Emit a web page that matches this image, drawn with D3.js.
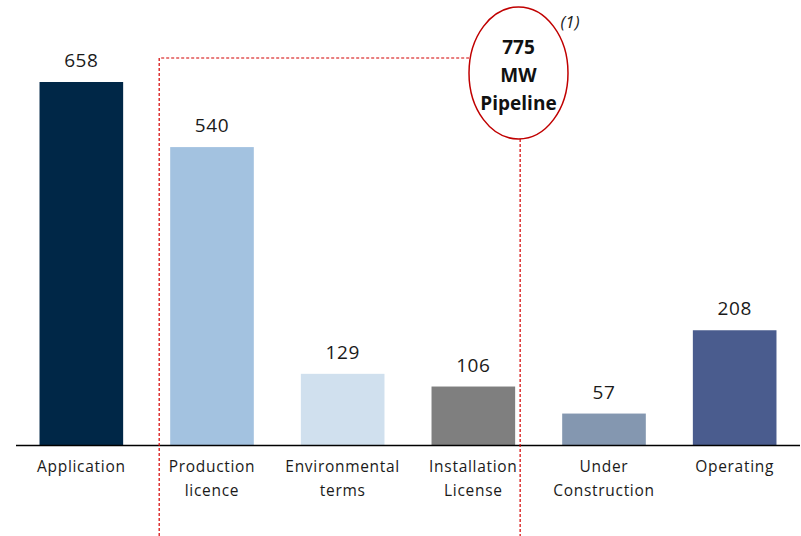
<!DOCTYPE html>
<html>
<head>
<meta charset="utf-8">
<script src="https://cdn.jsdelivr.net/npm/d3@7"></script>
<style>
  html, body { margin: 0; padding: 0; background: #fff; }
  svg { display: block; }
</style>
</head>
<body>
<svg id="chart" width="801" height="536"></svg>
<script>
// Wind project stages (MW)
const categories = [
  ["Application"],
  ["Production", "licence"],
  ["Environmental", "terms"],
  ["Installation", "License"],
  ["Under", "Construction"],
  ["Operating"]
];
const values = [658, 540, 129, 106, 57, 208];
const colors = ["#002747", "#a3c2e0", "#d0e0ee", "#7f7f7f", "#8497b0", "#4a5c8e"];
const pipelineLines = ["775", "MW", "Pipeline"];
const noteMark = "(1)";

const W = 801, H = 536;
const baseY = 445;
const svg = d3.select("#chart");
const font = "'Open Sans', 'Noto Sans', sans-serif";

const keys = categories.map(c => c.join(" "));
const x = d3.scaleBand().domain(keys).range([16, 800]).paddingInner(0.36).paddingOuter(0.18);
const y = d3.scaleLinear().domain([0, 658]).range([baseY, 82]);

// bars
svg.selectAll("rect.bar").data(values).join("rect")
  .attr("class", "bar")
  .attr("x", (d, i) => x(keys[i]))
  .attr("y", d => y(d))
  .attr("width", x.bandwidth())
  .attr("height", d => baseY - y(d))
  .attr("fill", (d, i) => colors[i]);

// value labels
svg.selectAll("text.val").data(values).join("text")
  .attr("class", "val")
  .attr("x", (d, i) => x(keys[i]) + x.bandwidth() / 2)
  .attr("y", d => y(d) - 15)
  .attr("text-anchor", "middle")
  .attr("font-family", font)
  .attr("font-size", 19)
  .attr("letter-spacing", 0.6)
  .attr("fill", "#1a1a1a")
  .text(d => d);

// baseline
svg.append("line")
  .attr("x1", 16).attr("x2", 800)
  .attr("y1", baseY + 0.5).attr("y2", baseY + 0.5)
  .attr("stroke", "#000").attr("stroke-width", 1.5);

// category labels
const labels = svg.selectAll("text.cat").data(categories).join("text")
  .attr("class", "cat")
  .attr("text-anchor", "middle")
  .attr("font-family", font)
  .attr("font-size", 15.5)
  .attr("letter-spacing", 0.7)
  .attr("fill", "#1a1a1a");
labels.each(function(lines, i) {
  const cx = x(keys[i]) + x.bandwidth() / 2;
  d3.select(this).selectAll("tspan").data(lines).join("tspan")
    .attr("x", cx)
    .attr("y", (d, j) => 472 + j * 24)
    .text(d => d);
});

// pipeline bracket (dashed)
const boxLeft = x(keys[1]) - 11;
const boxRight = x(keys[3]) + x.bandwidth() + 5;
const boxTop = 58;
const ell = { cx: 518.5, cy: 73, rx: 49.5, ry: 66 };
const dashed = { stroke: "#d40000", "stroke-width": 1.2, "stroke-dasharray": "3,2", fill: "none" };
const path = d3.path();
path.moveTo(boxLeft, H);
path.lineTo(boxLeft, boxTop);
path.lineTo(ell.cx - ell.rx, boxTop);
path.moveTo(boxRight, ell.cy + Math.sqrt(1 - ((boxRight - ell.cx) / ell.rx) ** 2) * ell.ry);
path.lineTo(boxRight, H);
const dp = svg.append("path").attr("d", path.toString());
Object.entries(dashed).forEach(([k, v]) => dp.attr(k, v));

// pipeline ellipse
svg.append("ellipse")
  .attr("cx", ell.cx).attr("cy", ell.cy)
  .attr("rx", ell.rx).attr("ry", ell.ry)
  .attr("fill", "#fff")
  .attr("stroke", "#c00000").attr("stroke-width", 1.5);

svg.append("text")
  .attr("text-anchor", "middle")
  .attr("font-family", font)
  .attr("font-weight", "bold")
  .attr("font-size", 19)
  .attr("fill", "#111")
  .selectAll("tspan").data(pipelineLines).join("tspan")
  .attr("x", ell.cx)
  .attr("y", (d, i) => 54 + i * 28)
  .text(d => d);

svg.append("text")
  .attr("x", 570).attr("y", 28)
  .attr("text-anchor", "middle")
  .attr("font-family", font)
  .attr("font-style", "italic")
  .attr("font-size", 17)
  .attr("fill", "#222")
  .text(noteMark);
</script>
</body>
</html>
